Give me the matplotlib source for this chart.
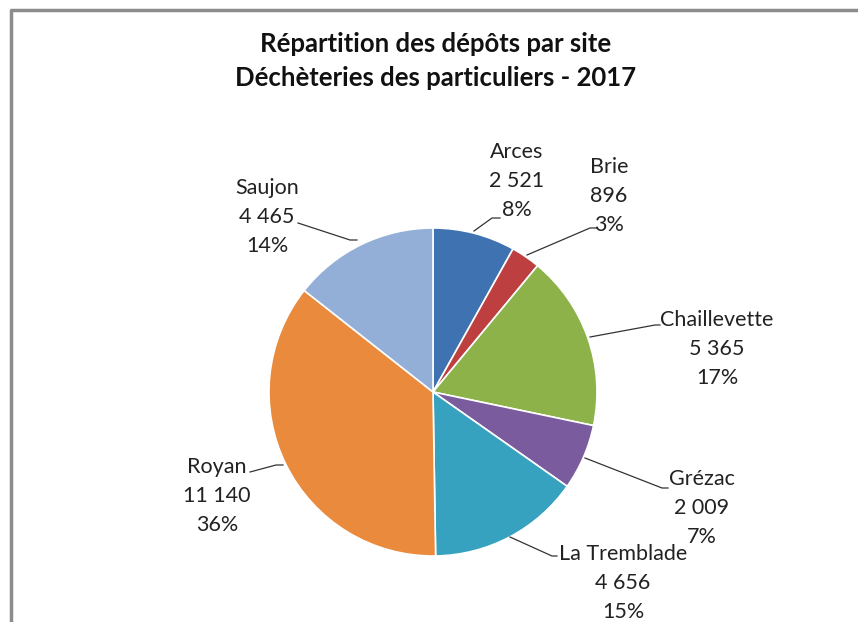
import matplotlib.pyplot as plt

sites = ['Arces', 'Brie', 'Chaillevette', 'Grézac', 'La Tremblade', 'Royan', 'Saujon']
tonnages = [2521, 896, 5365, 2009, 4656, 11140, 4465]
percents = [8, 3, 17, 7, 15, 36, 14]
colors = ['#3f72b0', '#bd3f40', '#8db24a', '#7a5b9e', '#37a2c0', '#ea8a3c', '#93afd8']

# label text centre (pixels) and leader line: start on pie, end near text
label_pos = [(517, 181), (609, 196), (717, 349), (702, 508), (623, 583), (217, 496), (267, 217)]
leaders = [((474, 231), (492, 218), (500, 218)),
           ((527, 255), (590, 228), (597, 228)),
           ((590, 337), (655, 325), (660, 325)),
           ((585, 458), (662, 488), (668, 488)),
           ((510, 537), (552, 556), (557, 556)),
           ((250, 472), (276, 465), (283, 465)),
           ((298, 223), (350, 240), (357, 240))]

W, H = 858, 622
fig = plt.figure(figsize=(W / 100, H / 100), dpi=100)
ax = fig.add_axes([0, 0, 1, 1])

ax.pie(tonnages, colors=colors, startangle=90, counterclock=False,
       center=(433, H - 392), radius=164, frame=True,
       wedgeprops=dict(edgecolor='white', linewidth=1.2))
ax.set_xlim(0, W)
ax.set_ylim(0, H)
ax.set_aspect('equal')
ax.axis('off')

def fmt(v):
    return f'{v:,}'.replace(',', ' ')

for name, v, p, (x, y), pts in zip(sites, tonnages, percents, label_pos, leaders):
    ax.text(x, H - y, f'{name}\n{fmt(v)}\n{p}%', ha='center', va='center',
            fontsize=15.5, family='Lato', color='#222222', linespacing=1.55)
    ax.plot([q[0] for q in pts], [H - q[1] for q in pts], color='#333333', lw=0.9)

ax.text(436, H - 44, 'Répartition des dépôts par site', ha='center', va='center',
        fontsize=18.5, family='Lato', fontweight='bold', color='#111111')
ax.text(436, H - 78, 'Déchèteries des particuliers - 2017', ha='center', va='center',
        fontsize=18.5, family='Lato', fontweight='bold', color='#111111')

# chart frame
ax.plot([11, 11, W], [0, H - 10, H - 10], color='#8c8c8c', lw=2.5, solid_capstyle='butt')

fig.savefig('out.png', dpi=100, facecolor='white')
